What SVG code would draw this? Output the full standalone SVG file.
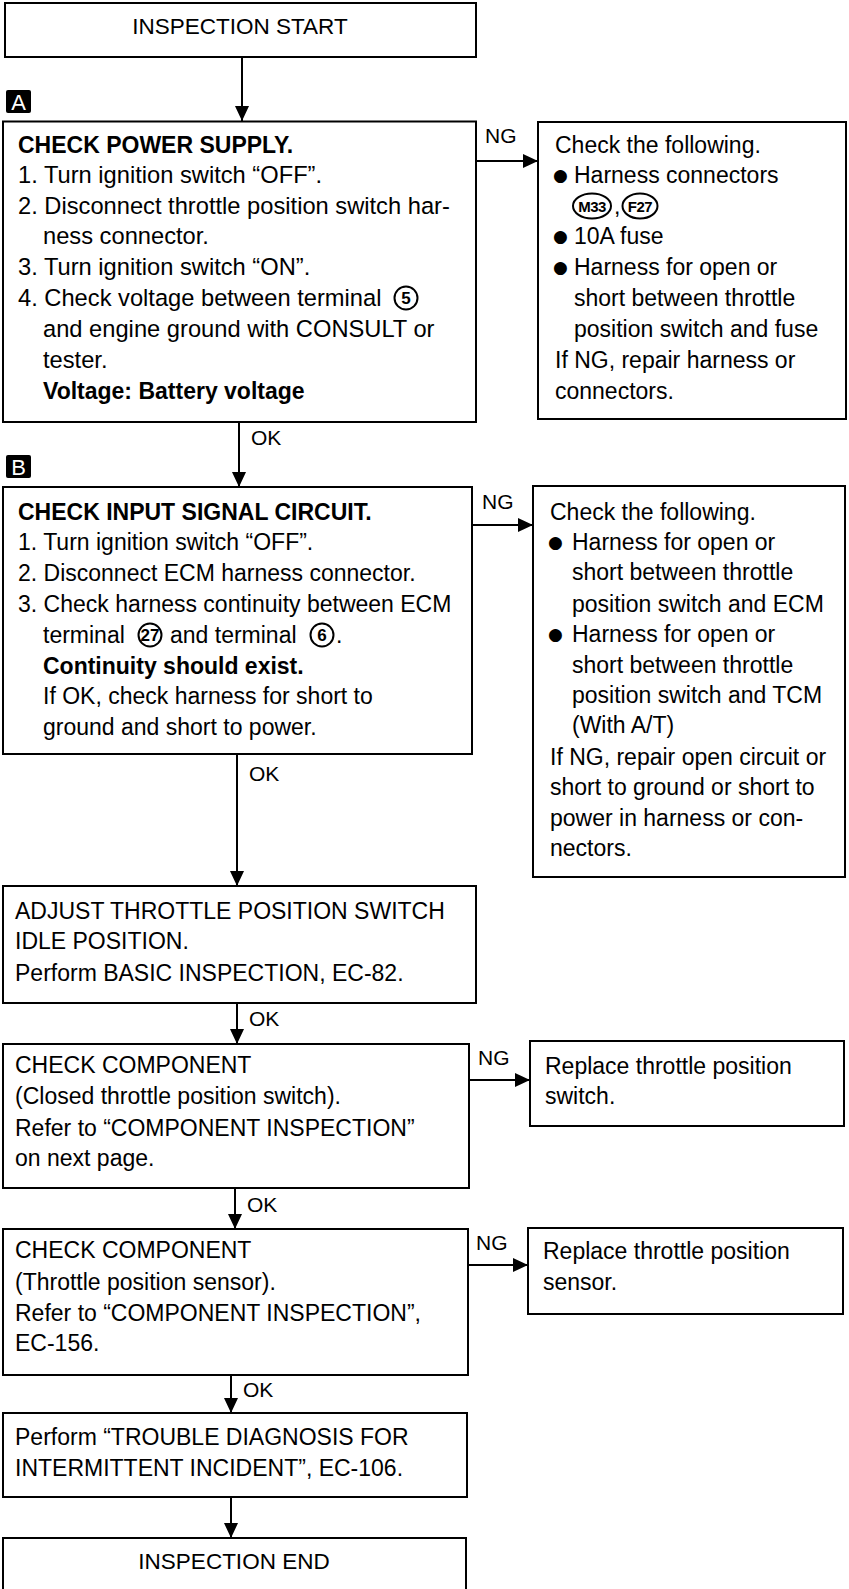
<svg xmlns="http://www.w3.org/2000/svg" width="849" height="1589" viewBox="0 0 849 1589">
<defs>
<marker id="ah" markerWidth="16" markerHeight="14" refX="15" refY="7" orient="auto" markerUnits="userSpaceOnUse">
<path d="M0,0 L15,7 L0,14 Z" fill="#000"/>
</marker>
<style>
.box{fill:#fff;stroke:#000;stroke-width:2}
.t{font-family:"Liberation Sans",Arial,sans-serif;font-size:23px;fill:#000}
.wa{font-size:23.7px}
.b{font-weight:bold}
.lbl{font-family:"Liberation Sans",Arial,sans-serif;font-size:21px;fill:#000}
.ttl{font-family:"Liberation Sans",Arial,sans-serif;font-size:22.5px;fill:#000;text-anchor:middle}
.bul{font-family:"DejaVu Sans",sans-serif;font-size:17px;fill:#000}
.conn{stroke:#000;stroke-width:2;fill:none;marker-end:url(#ah)}
.cir{fill:none;stroke:#000;stroke-width:2}
.cn{font-family:"Liberation Sans",Arial,sans-serif;font-size:17px;font-weight:bold;fill:#000;text-anchor:middle}
.cs{font-size:15px;letter-spacing:-0.5px}
.tag{fill:#000}
.tagt{font-family:"Liberation Sans",Arial,sans-serif;font-size:22px;fill:#fff;text-anchor:middle}
</style>
</defs>
<rect width="849" height="1589" fill="#fff"/>

<g id="connectors">
<line class="conn" x1="242" y1="57" x2="242" y2="121"/>
<line class="conn" x1="476" y1="161" x2="538" y2="161"/>
<text class="lbl" x="485" y="143">NG</text>
<line class="conn" x1="239" y1="422" x2="239" y2="487"/>
<text class="lbl" x="251" y="445">OK</text>
<line class="conn" x1="472" y1="525" x2="533" y2="525"/>
<text class="lbl" x="482" y="509">NG</text>
<line class="conn" x1="237" y1="754" x2="237" y2="886"/>
<text class="lbl" x="249" y="781">OK</text>
<line class="conn" x1="237" y1="1003" x2="237" y2="1044"/>
<text class="lbl" x="249" y="1026">OK</text>
<line class="conn" x1="469" y1="1080" x2="530" y2="1080"/>
<text class="lbl" x="478" y="1065">NG</text>
<line class="conn" x1="235" y1="1188" x2="235" y2="1229"/>
<text class="lbl" x="247" y="1212">OK</text>
<line class="conn" x1="468" y1="1265" x2="528" y2="1265"/>
<text class="lbl" x="476" y="1250">NG</text>
<line class="conn" x1="231" y1="1375" x2="231" y2="1413"/>
<text class="lbl" x="243" y="1397">OK</text>
<line class="conn" x1="231" y1="1497" x2="231" y2="1538"/>
</g>

<g id="start">
<rect class="box" x="5" y="3" width="471" height="54"/>
<text class="ttl" x="240" y="34">INSPECTION START</text>
</g>

<g id="tagA">
<rect class="tag" x="6" y="90" width="25" height="23" rx="2"/>
<text class="tagt" x="18.5" y="110">A</text>
</g>

<g id="boxA">
<rect class="box" x="3" y="121.5" width="473" height="300.5"/>
<text class="t b" x="18" y="153">CHECK POWER SUPPLY.</text>
<text class="t wa" x="18" y="183">1. Turn ignition switch “OFF”.</text>
<text class="t wa" x="18" y="214">2. Disconnect throttle position switch har-</text>
<text class="t wa" x="43" y="244">ness connector.</text>
<text class="t wa" x="18" y="275">3. Turn ignition switch “ON”.</text>
<text class="t wa" x="18" y="306">4. Check voltage between terminal</text>
<circle class="cir" cx="406" cy="298" r="11.5"/>
<text class="cn" x="406" y="304">5</text>
<text class="t wa" x="43" y="337">and engine ground with CONSULT or</text>
<text class="t wa" x="43" y="368">tester.</text>
<text class="t b" x="43" y="399">Voltage: Battery voltage</text>
</g>

<g id="ngA">
<rect class="box" x="538" y="122" width="308" height="297"/>
<text class="t" x="555" y="153">Check the following.</text>
<text class="bul" x="553" y="181">●</text>
<text class="t" x="574" y="183">Harness connectors</text>
<ellipse class="cir" cx="592" cy="206" rx="19" ry="12.5"/>
<text class="cn cs" x="592" y="211.5">M33</text>
<text class="t" x="614" y="214">,</text>
<ellipse class="cir" cx="640" cy="206" rx="17.5" ry="12.5"/>
<text class="cn cs" x="640" y="211.5">F27</text>
<text class="bul" x="553" y="242">●</text>
<text class="t" x="574" y="244">10A fuse</text>
<text class="bul" x="553" y="273">●</text>
<text class="t" x="574" y="275">Harness for open or</text>
<text class="t" x="574" y="306">short between throttle</text>
<text class="t" x="574" y="337">position switch and fuse</text>
<text class="t" x="555" y="368">If NG, repair harness or</text>
<text class="t" x="555" y="399">connectors.</text>
</g>

<g id="tagB">
<rect class="tag" x="6" y="455" width="25" height="23" rx="2"/>
<text class="tagt" x="18.5" y="475">B</text>
</g>

<g id="boxB">
<rect class="box" x="3" y="487" width="469" height="267"/>
<text class="t b" x="18" y="520">CHECK INPUT SIGNAL CIRCUIT.</text>
<text class="t" x="18" y="550">1. Turn ignition switch “OFF”.</text>
<text class="t" x="18" y="581">2. Disconnect ECM harness connector.</text>
<text class="t" x="18" y="612">3. Check harness continuity between ECM</text>
<text class="t" x="43" y="643">terminal</text>
<circle class="cir" cx="150" cy="635" r="11.5"/>
<text class="cn" x="150" y="641">27</text>
<text class="t" x="170" y="643">and terminal</text>
<circle class="cir" cx="322" cy="635" r="11.5"/>
<text class="cn" x="322" y="641">6</text>
<text class="t" x="336" y="643">.</text>
<text class="t b" x="43" y="674">Continuity should exist.</text>
<text class="t" x="43" y="704">If OK, check harness for short to</text>
<text class="t" x="43" y="735">ground and short to power.</text>
</g>

<g id="ngB">
<rect class="box" x="533" y="486" width="312" height="391"/>
<text class="t" x="550" y="520">Check the following.</text>
<text class="bul" x="548" y="548">●</text>
<text class="t" x="572" y="550">Harness for open or</text>
<text class="t" x="572" y="580">short between throttle</text>
<text class="t" x="572" y="612">position switch and ECM</text>
<text class="bul" x="548" y="640">●</text>
<text class="t" x="572" y="642">Harness for open or</text>
<text class="t" x="572" y="673">short between throttle</text>
<text class="t" x="572" y="703">position switch and TCM</text>
<text class="t" x="572" y="733">(With A/T)</text>
<text class="t" x="550" y="765">If NG, repair open circuit or</text>
<text class="t" x="550" y="795">short to ground or short to</text>
<text class="t" x="550" y="826">power in harness or con-</text>
<text class="t" x="550" y="856">nectors.</text>
</g>

<g id="adjust">
<rect class="box" x="3" y="886" width="473" height="117"/>
<text class="t" x="15" y="919">ADJUST THROTTLE POSITION SWITCH</text>
<text class="t" x="15" y="949">IDLE POSITION.</text>
<text class="t" x="15" y="981">Perform BASIC INSPECTION, EC-82.</text>
</g>

<g id="compSwitch">
<rect class="box" x="3" y="1044" width="466" height="144"/>
<text class="t" x="15" y="1073">CHECK COMPONENT</text>
<text class="t" x="15" y="1104">(Closed throttle position switch).</text>
<text class="t" x="15" y="1136">Refer to “COMPONENT INSPECTION”</text>
<text class="t" x="15" y="1166">on next page.</text>
</g>

<g id="replaceSwitch">
<rect class="box" x="530" y="1041" width="314" height="85"/>
<text class="t" x="545" y="1074">Replace throttle position</text>
<text class="t" x="545" y="1104">switch.</text>
</g>

<g id="compSensor">
<rect class="box" x="3" y="1229" width="465" height="146"/>
<text class="t" x="15" y="1258">CHECK COMPONENT</text>
<text class="t" x="15" y="1290">(Throttle position sensor).</text>
<text class="t" x="15" y="1321">Refer to “COMPONENT INSPECTION”,</text>
<text class="t" x="15" y="1351">EC-156.</text>
</g>

<g id="replaceSensor">
<rect class="box" x="528" y="1228" width="315" height="86"/>
<text class="t" x="543" y="1259">Replace throttle position</text>
<text class="t" x="543" y="1290">sensor.</text>
</g>

<g id="intermittent">
<rect class="box" x="3" y="1413" width="464" height="84"/>
<text class="t" x="15" y="1445">Perform “TROUBLE DIAGNOSIS FOR</text>
<text class="t" x="15" y="1476">INTERMITTENT INCIDENT”, EC-106.</text>
</g>

<g id="end">
<rect class="box" x="3" y="1538" width="463" height="70"/>
<text class="ttl" x="234" y="1569">INSPECTION END</text>
</g>
</svg>
